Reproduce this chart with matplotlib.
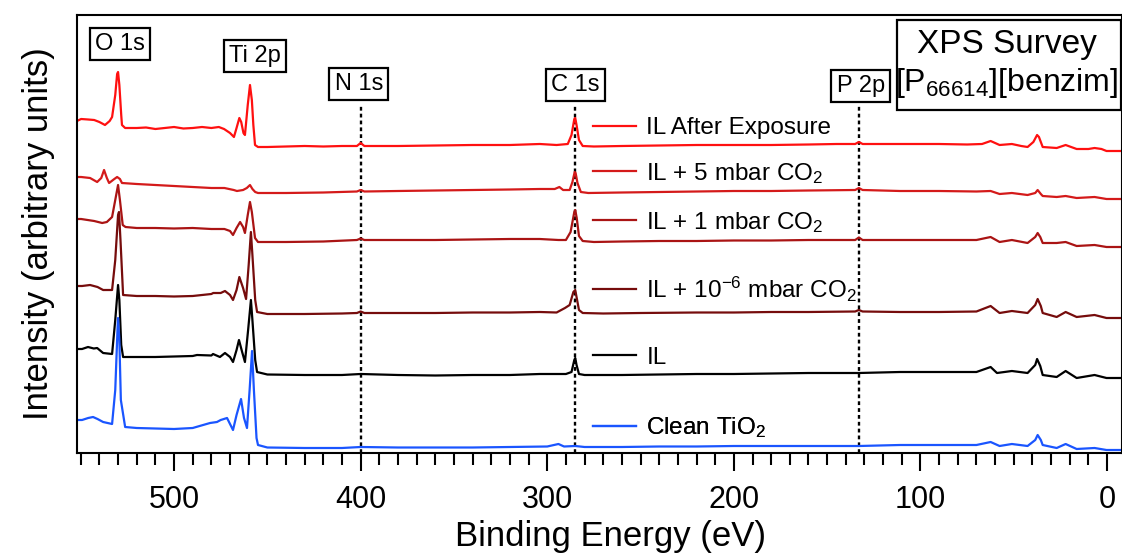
import matplotlib
matplotlib.use("Agg")
import matplotlib.pyplot as plt
from matplotlib.patches import Rectangle

plt.rcParams['font.family'] = ['Liberation Sans', 'DejaVu Sans']
plt.rcParams['mathtext.fontset'] = 'custom'
plt.rcParams['mathtext.rm'] = 'Liberation Sans'
plt.rcParams['mathtext.it'] = 'Liberation Sans:italic'
plt.rcParams['mathtext.bf'] = 'Liberation Sans:bold'

## Spectra (binding energy in eV, intensity in arbitrary units)
after_E = [552, 549.8, 546, 542.8, 540, 537, 534.5, 533.2, 531.5, 530.5, 530, 529.3, 528.3, 527.9, 526.2,
           520, 515, 510, 505, 500, 495, 490, 485, 480, 476, 473.2, 470, 467.9, 466.5, 465, 464, 462.8,
           462, 460.5, 459.3, 458.3, 457.5, 456.6, 455, 450, 440, 430, 420, 410, 402, 400, 398, 380,
           360, 340, 320, 304, 295, 289, 287, 285.5, 285, 284.3, 283, 281, 275, 260, 240, 220, 200,
           180, 160, 145, 135, 133, 131, 120, 111, 90, 75, 67, 62.4, 57.6, 51, 46, 42.6, 39.5, 37.5,
           36.5, 34.5, 27, 22.2, 16.3, 10, 6.7, 3, 0.3, -8]
after_I = [332, 334, 333.5, 333, 331, 328, 332, 336, 358, 379, 381, 368, 338, 328, 325,
           325, 325.5, 324, 325, 326, 324.5, 325, 326, 325, 326, 324, 320, 316, 325, 335, 331, 320,
           318, 348, 368, 353, 328, 308, 306, 306, 306.5, 307, 306.5, 307, 307, 310, 307, 307,
           307.5, 308, 308, 309, 308, 309, 318, 334, 335, 328, 313, 307, 306.5, 307, 307.5, 308, 308,
           308, 308.5, 309, 309, 311, 309, 309, 309, 309, 308.5, 309, 312, 308, 309, 307, 306, 311, 318,
           316, 306, 305, 308, 304, 304, 305, 304, 302, 302]

co2_5_E = [552, 549.8, 545, 541.2, 539, 537.5, 536, 534.8, 532, 530.5, 529, 527.9, 520, 510, 500, 490,
           480, 473, 468, 466.3, 463, 461, 459.3, 458, 456.5, 455, 440, 420, 402, 400, 398, 380, 360,
           340, 320, 304, 296, 293.5, 291.5, 288, 286.5, 285.3, 284.8, 283.8, 282, 278, 260, 240, 220,
           200, 180, 160, 135, 133, 131, 111, 90, 70, 62.4, 57.6, 51, 42.6, 38.5, 37.2, 35.5, 34.5, 27,
           22.2, 16.3, 6.7, 0.3, -8]
co2_5_I = [276, 276, 275, 271, 275, 283, 275, 270, 274, 276, 274, 270, 269, 268, 267, 266,
           265, 265, 263, 262, 263, 265, 268, 264, 261, 260, 260, 260.5, 261.5, 263, 261.5, 262, 262.5,
           263, 263.5, 264, 264, 266, 263, 263, 271, 281, 280, 270, 261, 260, 260.5, 261, 261.5,
           262, 262, 262.5, 263, 265, 263, 262, 262, 261.5, 262, 259, 260, 258, 260, 263, 259, 257, 256,
           257, 255, 256, 254, 254]

co2_1_E = [552, 549.8, 542.8, 538.5, 536, 533.2, 531.5, 530, 529, 527.5, 526, 520, 510, 500, 490, 480,
           473, 470, 468.4, 466.5, 464.6, 463, 462, 460.5, 459.3, 458.3, 457, 456.6, 455, 440, 420, 402,
           400, 398, 380, 360, 340, 320, 304, 294, 290, 287.5, 285.5, 285, 284.2, 283, 281, 275, 260,
           240, 220, 200, 180, 160, 135, 133, 131, 111, 90, 70, 62.4, 57.6, 51, 42.6, 38.5, 37.2, 35.8,
           34.5, 27, 22.2, 16.3, 6.7, 0.3, -8]
co2_1_I = [234, 234, 232, 230, 231, 236, 253, 268, 253, 228, 226, 225, 225, 224.5, 225, 224,
           224, 222, 218, 225, 231, 226, 220, 238, 251, 241, 221, 215, 211, 211, 211.5, 213,
           214.5, 213, 213, 213, 213.5, 214, 214, 213, 213, 221, 241, 243, 235, 217, 212, 211, 211.5,
           212, 212, 212.5, 212.5, 213, 213, 215.5, 213, 213, 213, 213, 216, 211, 213, 210, 216, 220, 216,
           210, 210, 211, 207, 208, 206, 206]

co2_uhv_E = [552, 549.3, 545, 541, 538, 533.2, 531.5, 530, 529.5, 528.7, 527.3, 520, 510, 500, 490, 480,
             479, 475, 472.7, 470, 468.4, 466.5, 465, 463, 461.4, 460, 458.8, 458, 456.5, 455.5, 450, 430,
             410, 402, 400, 398, 380, 360, 340, 320, 304, 295, 290.5, 288, 286, 285, 284, 283, 281, 270,
             250, 220, 200, 180, 160, 135, 133, 131, 111, 90, 70, 62.4, 57.6, 51, 42.6, 38.5, 37.2, 35.5,
             34.5, 27, 22.2, 16.3, 6.7, 0.3, -8]
co2_uhv_I = [167, 167, 168, 166, 163, 163, 193, 238, 241, 213, 158, 157, 157, 156.5, 157, 159,
             160, 160, 162, 158, 153, 163, 176, 165, 154, 188, 221, 198, 153, 141, 139, 139,
             139.5, 140, 141.5, 140, 140, 140, 140.5, 140.5, 141, 140.5, 145, 148, 161, 163, 153, 143, 140, 139.5,
             140, 140.5, 140.5, 141, 141, 141.5, 143, 141.5, 141, 141, 141.5, 147, 140, 142, 140, 148, 154, 147,
             140, 136, 141, 136, 138, 135, 135]

il_E = [552, 549.3, 546.1, 543, 541.2, 538, 533.2, 531.5, 530, 529.3, 528.3, 527.3, 520, 510, 500, 490,
        487.7, 480, 479.1, 475.4, 472.7, 470, 468.4, 466.5, 465.2, 463.5, 462, 460.3, 458.8, 458, 456.5,
        455.5, 450, 430, 410, 400, 380, 360, 340, 320, 304, 290, 287, 285.5, 285, 284.3, 283, 280, 260,
        240, 220, 200, 180, 160, 133, 111, 90, 70, 62.4, 59, 51, 42.6, 38.5, 37.5, 35.8, 34.5, 27, 22.2,
        16.3, 6.7, 0.3, -8]
il_I = [104, 104, 106, 104.5, 105, 100, 99, 133, 168, 153, 108, 96, 96, 96, 96.5, 97,
        98, 97.5, 99, 96, 100, 96, 91, 103, 113, 101, 91, 123, 153, 133, 93,
        81, 78.5, 78, 78, 79, 78, 77.5, 78, 78, 79, 79, 81, 93, 95, 88, 79, 78, 78,
        78.5, 79, 79, 79.5, 80, 80, 81, 81, 81, 86, 80, 82, 80, 88, 94, 87, 78, 76, 82,
        75, 78, 75, 75]

clean_E = [552, 549.3, 546, 543.4, 541, 538, 533.2, 531.5, 530.3, 530, 529.3, 528.5, 526.2, 520, 510, 500,
           490, 480.7, 477, 475, 471.6, 470, 468.4, 466.5, 464.1, 462.5, 460.9, 459.5, 458.2, 457.2, 455.8,
           455, 450, 430, 410, 400, 380, 360, 340, 320, 300, 294, 291, 285, 280, 260, 240, 220, 200, 180,
           160, 133, 111, 90, 70, 62.4, 57.6, 51, 42.6, 38.5, 37.2, 35.5, 34.5, 27, 22.2, 16.3, 6.7, 0.3, -8]
clean_I = [33, 33, 35, 36, 34, 31, 29, 63, 123, 135, 113, 53, 26, 25, 24.5, 24,
           25, 30, 31, 33, 35, 29, 23, 38, 54, 35, 25, 63, 102, 63, 15,
           8, 5.5, 5, 5, 6, 5.5, 5.5, 5.5, 6, 6.5, 9, 6.5, 7, 6, 6, 6.5, 6.5, 7, 7,
           7, 7, 8, 8, 8, 11, 7, 9, 7, 13, 18, 13, 8, 5, 9, 4, 5, 3, 3]

series = [
    (after_E, after_I, 'IL After Exposure', '#FF1010'),
    (co2_5_E, co2_5_I, 'IL + 5 mbar CO$_2$', '#D41A1A'),
    (co2_1_E, co2_1_I, 'IL + 1 mbar CO$_2$', '#AA1414'),
    (co2_uhv_E, co2_uhv_I, 'IL + 10$^{-6}$ mbar CO$_2$', '#760C0C'),
    (il_E, il_I, 'IL', '#000000'),
    (clean_E, clean_I, 'Clean TiO$_2$', '#1A55FF'),
]

## Peak markers
peak_names = ['O 1s', 'Ti 2p', 'N 1s', 'C 1s', 'P 2p']
peak_label_E = [529, 456.5, 401, 285, 132]
peak_label_I = [409, 397, 369, 368, 367]
dashed_E = [400, 285, 133]
dashed_top = 349

fig = plt.figure(figsize=(11.22, 5.56), dpi=100)
ax = fig.add_axes([77 / 1122, 1 - 453 / 556, 1045 / 1122, 438 / 556])

lines = []
for E, I, label, color in series:
    ln, = ax.plot(E, I, color=color, lw=1.6, label=label)
    lines.append(ln)

for e in dashed_E:
    ax.plot([e, e], [0, dashed_top], color='black', lw=1.7, ls=(0, (1.6, 1.3)), zorder=1)

for name, e, i in zip(peak_names, peak_label_E, peak_label_I):
    ax.text(e, i, name, fontsize=17, ha='center', va='center', zorder=5,
            bbox=dict(boxstyle='square,pad=0.22', fc='white', ec='black', lw=1.6))

## title box
ax.add_patch(Rectangle((0.7847, 0.783), 0.2143, 0.2057, transform=ax.transAxes,
                       fc='white', ec='black', lw=1.6, zorder=5, clip_on=False))
ax.text(0.8895, 0.932, 'XPS Survey', transform=ax.transAxes, fontsize=24,
        ha='center', va='center', zorder=6)
ax.text(0.8895, 0.845, '[P$_{66614}$][benzim]', transform=ax.transAxes, fontsize=23,
        ha='center', va='center', zorder=6)

## one small legend per trace, placed next to it
legend_y = [0.742, 0.639, 0.527, 0.374, 0.217, 0.057]
for ln, ly in zip(lines, legend_y):
    lg = ax.legend([ln], [ln.get_label()], loc='center left', bbox_to_anchor=(0.4938, ly),
                   frameon=False, fontsize=17.5, handlelength=1.75, handletextpad=0.45,
                   borderpad=0, borderaxespad=0)
    ax.add_artist(lg)

ax.set_xlim(552, -8)
ax.set_ylim(0, 438)
ax.set_xticks([500, 400, 300, 200, 100, 0])
ax.set_xticks(list(range(0, 551, 10)), minor=True)
ax.set_yticks([])
ax.tick_params(axis='x', which='major', direction='out', length=13, width=1.5, labelsize=22, pad=10)
ax.tick_params(axis='x', which='minor', direction='out', length=8.5, width=1.5)
for sp in ax.spines.values():
    sp.set_linewidth(1.5)

ax.set_xlabel('Binding Energy (eV)', fontsize=25)
ax.xaxis.set_label_coords(0.511, -0.152)
ax.set_ylabel('Intensity (arbitrary units)', fontsize=25, labelpad=16)

plt.savefig('out.png', dpi=100)
